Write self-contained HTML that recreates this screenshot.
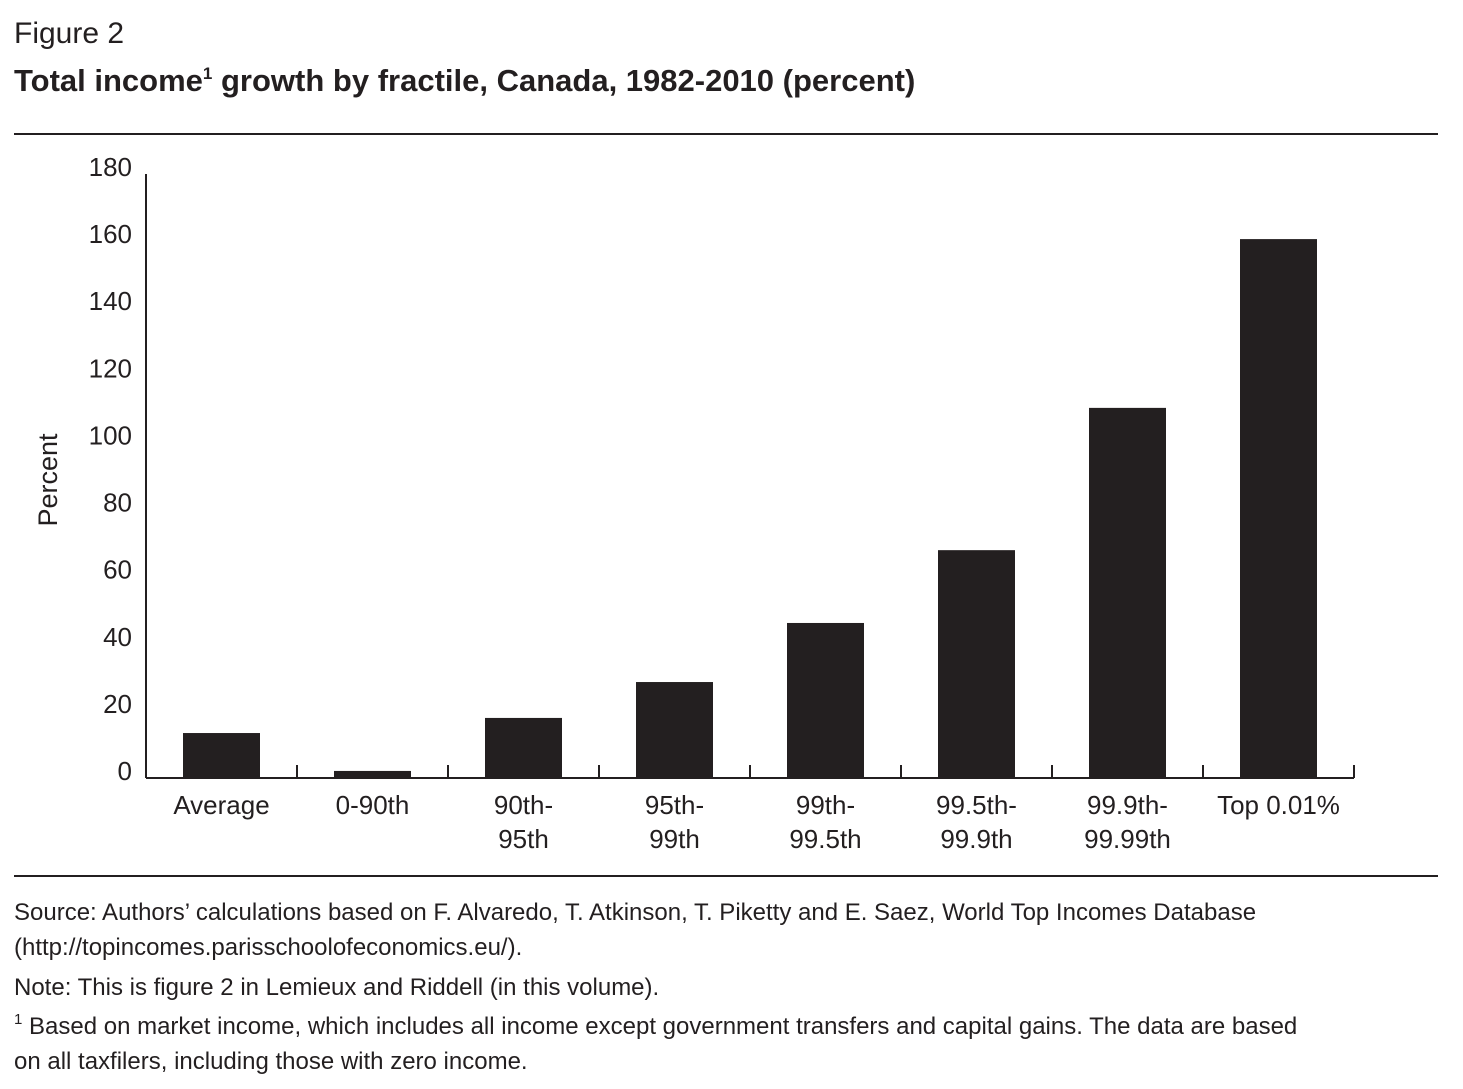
<!DOCTYPE html>
<html><head><meta charset="utf-8"><style>
body{margin:0;background:#fff;}
svg text{font-family:"Liberation Sans",sans-serif;fill:#231f20;}
</style></head><body>
<svg width="1463" height="1084" xmlns="http://www.w3.org/2000/svg">
<text x="14" y="43" font-size="30">Figure 2</text>
<text x="14" y="91" font-size="31" font-weight="bold">Total income<tspan font-size="17" dy="-12">1</tspan><tspan dy="12"> growth by fractile, Canada, 1982-2010 (percent)</tspan></text>
<line x1="14" y1="134" x2="1438" y2="134" stroke="#231f20" stroke-width="2"/>
<g id="chart"></g>
<text transform="translate(57,480) rotate(-90)" text-anchor="middle" font-size="27">Percent</text>
<line x1="14" y1="876" x2="1438" y2="876" stroke="#231f20" stroke-width="2"/>
<g font-size="24">
<text x="14" y="920">Source: Authors’ calculations based on F. Alvaredo, T. Atkinson, T. Piketty and E. Saez, World Top Incomes Database</text>
<text x="14" y="955">(http://topincomes.parisschoolofeconomics.eu/).</text>
<text x="14" y="995">Note: This is figure 2 in Lemieux and Riddell (in this volume).</text>
<text x="14" y="1034"><tspan font-size="15" dy="-10">1</tspan><tspan dy="10"> Based on market income, which includes all income except government transfers and capital gains. The data are based</tspan></text>
<text x="14" y="1069">on all taxfilers, including those with zero income.</text>
</g>
</svg>
<script>
const categories=[["Average"],["0-90th"],["90th-","95th"],["95th-","99th"],["99th-","99.5th"],["99.5th-","99.9th"],["99.9th-","99.99th"],["Top 0.01%"]];
const values=[13.4,2.1,17.9,28.6,46.2,67.9,110.3,160.6];
const ticks=[0,20,40,60,80,100,120,140,160,180];
const NS="http://www.w3.org/2000/svg";
const g=document.getElementById('chart');
const x0=146,x1=1354,y0=778,yTop=174,yMax=180;
const bw=(x1-x0)/categories.length;
const y=v=>y0-(v/yMax)*(y0-yTop);
function mk(t,a){const e=document.createElementNS(NS,t);for(const k in a)e.setAttribute(k,a[k]);g.appendChild(e);return e;}
let ax=mk('line',{x1:x0,y1:yTop,x2:x0,y2:y0,stroke:'#231f20','stroke-width':2});


let bx=mk('line',{x1:x0,y1:y0,x2:x1,y2:y0,stroke:'#231f20','stroke-width':2});


ticks.forEach(t=>{const e=mk('text',{x:132,y:y(t)+2,'text-anchor':'end','font-size':26});e.textContent=t;

});
categories.forEach((c,i)=>{
 if(i>0){const tk=mk('line',{x1:x0+i*bw,y1:y0-13,x2:x0+i*bw,y2:y0,stroke:'#231f20','stroke-width':2});
 
 }
 if(i==categories.length-1){const tk=mk('line',{x1:x1,y1:y0-13,x2:x1,y2:y0,stroke:'#231f20','stroke-width':2});
 
 }
 const cx=x0+(i+0.5)*bw;
 const r=mk('rect',{x:cx-38.5,y:y(values[i]),width:77,height:y0-y(values[i]),fill:'#231f20'});
 
 
 c.forEach((l,j)=>{const t=mk('text',{x:cx,y:814+j*34,'text-anchor':'middle','font-size':26});t.textContent=l;
 
 });
});
</script>
</body></html>
